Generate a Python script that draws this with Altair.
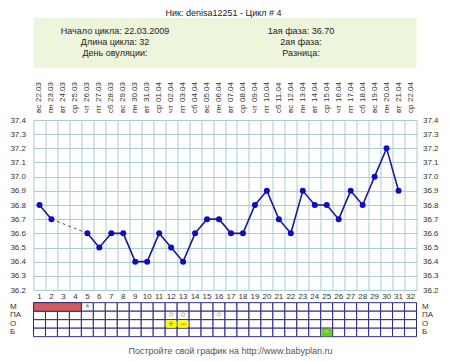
import altair as alt
import pandas as pd

# ---------------- data ----------------
days = list(range(1, 33))
dates = ["22.03", "23.03", "24.03", "25.03", "26.03", "27.03", "28.03", "29.03", "30.03", "31.03",
         "01.04", "02.04", "03.04", "04.04", "05.04", "06.04", "07.04", "08.04", "09.04", "10.04",
         "11.04", "12.04", "13.04", "14.04", "15.04", "16.04", "17.04", "18.04", "19.04", "20.04",
         "21.04", "22.04"]
weekdays = ["вс", "пн", "вт", "ср", "чт", "пт", "сб"] * 4 + ["вс", "пн", "вт", "ср"]
temps = [36.8, 36.7, None, None, 36.6, 36.5, 36.6, 36.6, 36.4, 36.4,
         36.6, 36.5, 36.4, 36.6, 36.7, 36.7, 36.6, 36.6, 36.8, 36.9,
         36.7, 36.6, 36.9, 36.8, 36.8, 36.7, 36.9, 36.8, 37.0, 37.2,
         36.9, None]
gap_days = [2, 5]
temp_ticks = [36.2, 36.3, 36.4, 36.5, 36.6, 36.7, 36.8, 36.9, 37.0, 37.1, 37.2, 37.3, 37.4]
day_bounds = [d - 0.5 for d in days] + [32.5]

row_labels = ["М", "ПА", "О", "Б"]
mens_days = [1, 2, 3, 4]
mens_star_days = [5]
pa_days = [12, 13, 16]
o_days = [12, 13]
o_marks = ["+", "−"]
b_days = [25]
b_marks = ["+"]

title_text = "Ник: denisa12251 - Цикл # 4"
info_left = ["Начало цикла: 22.03.2009", "Длина цикла: 32", "День овуляции:"]
info_right = ["1ая фаза: 36.70", "2ая фаза:", "Разница:"]
footer_text = "Постройте свой график на http://www.babyplan.ru"

# ---------------- tables ----------------
FONT = "Liberation Sans"
W, H = 383, 170

df_days = pd.DataFrame({"day": days, "date": dates, "wd": weekdays, "temp": temps})
seg, s = [], 0
prev = None
for t in temps:
    if t is None:
        seg.append(None)
    else:
        if prev is None:
            s += 1
        seg.append(s)
    prev = t
df_days["seg"] = seg
df_line = df_days.dropna(subset=["temp"])
df_gap = df_days[df_days["day"].isin(gap_days)]

xs = alt.Scale(domain=[0.5, 32.5], nice=False, zero=False)
ys = alt.Scale(domain=[36.2, 37.4], nice=False, zero=False)
one = pd.DataFrame({"xb": [1.0], "t": [37.0]})

# grid + left axis
grid = alt.Chart(one).mark_point(opacity=0).encode(
    x=alt.X("xb:Q", scale=xs, axis=alt.Axis(values=day_bounds, grid=True, labels=False,
                                             ticks=False, domain=False, title=None,
                                             gridColor="#a9cbd2", gridWidth=1)),
    y=alt.Y("t:Q", scale=ys, axis=alt.Axis(values=temp_ticks, orient="left", grid=True,
                                            gridColor="#a9cbd2", gridWidth=1, ticks=False,
                                            domain=False, title=None, format=".1f",
                                            labelPadding=8, labelFont=FONT, labelFontSize=8,
                                            labelColor="#333333")),
)
right_axis = alt.Chart(one).mark_point(opacity=0).encode(
    x=alt.X("xb:Q", scale=xs, axis=None),
    y=alt.Y("t:Q", scale=ys, axis=alt.Axis(values=temp_ticks, orient="right", grid=False,
                                            ticks=False, domain=False, title=None, format=".1f",
                                            labelPadding=6, labelFont=FONT, labelFontSize=8,
                                            labelColor="#333333")),
)

box = alt.Chart(one).mark_rect(fill="#eef5dd").encode(
    x=alt.value(0), x2=alt.value(W), y=alt.value(-102), y2=alt.value(-52)
)

title = alt.Chart(one).mark_text(font=FONT, fontSize=9, color="#222222", baseline="top").encode(
    x=alt.value(190), y=alt.value(-111), text=alt.value(title_text)
)
info_layers = []
for i, (a, b) in enumerate(zip(info_left, info_right)):
    yy = -89 + 11 * i
    info_layers.append(alt.Chart(one).mark_text(font=FONT, fontSize=9, color="#222222").encode(
        x=alt.value(81.5), y=alt.value(yy), text=alt.value(a)))
    info_layers.append(alt.Chart(one).mark_text(font=FONT, fontSize=9, color="#222222").encode(
        x=alt.value(267.5), y=alt.value(yy), text=alt.value(b)))

date_lbl = alt.Chart(df_days).mark_text(font=FONT, fontSize=8, color="#333333", angle=270,
                                        align="left", baseline="middle").encode(
    x=alt.X("day:Q", scale=xs, axis=None), y=alt.value(-18), text="date:N")
wd_lbl = alt.Chart(df_days).mark_text(font=FONT, fontSize=8, color="#333333", angle=270,
                                      align="left", baseline="middle").encode(
    x=alt.X("day:Q", scale=xs, axis=None), y=alt.value(-7), text="wd:N")
num_lbl = alt.Chart(df_days).mark_text(font=FONT, fontSize=8, color="#333333",
                                       baseline="middle").encode(
    x=alt.X("day:Q", scale=xs, axis=None), y=alt.value(177), text="day:N")

gap_line = alt.Chart(df_gap).mark_line(color="#555555", strokeDash=[3, 3], strokeWidth=1).encode(
    x=alt.X("day:Q", scale=xs, axis=None), y=alt.Y("temp:Q", scale=ys, axis=None))
line = alt.Chart(df_line).mark_line(color="#1c1c8e", strokeWidth=1.6).encode(
    x=alt.X("day:Q", scale=xs, axis=None), y=alt.Y("temp:Q", scale=ys, axis=None),
    detail="seg:N")
pts = alt.Chart(df_line).mark_circle(color="#0c0cc6", opacity=1, size=36).encode(
    x=alt.X("day:Q", scale=xs, axis=None), y=alt.Y("temp:Q", scale=ys, axis=None))

# bottom table
ROW_TOP = 182.7
ROW_H = 8.5
NAVY = "#2b2b7c"
table_layers = []
for r in range(4):
    y0 = ROW_TOP + r * ROW_H
    table_layers.append(alt.Chart(df_days).mark_rect(fill="white", stroke=NAVY, strokeWidth=1)
                        .transform_calculate(x0="datum.day - 0.5", x1="datum.day + 0.5")
                        .encode(x=alt.X("x0:Q", scale=xs, axis=None), x2="x1:Q",
                                y=alt.value(y0), y2=alt.value(y0 + ROW_H)))

rowc = [ROW_TOP + ROW_H * (r + 0.5) for r in range(4)]
df_mens = pd.DataFrame({"a": [min(mens_days) - 0.5], "b": [max(mens_days) + 0.5]})
mens = alt.Chart(df_mens).mark_rect(fill="#d55b5b", stroke=NAVY, strokeWidth=1).encode(
    x=alt.X("a:Q", scale=xs, axis=None), x2="b:Q",
    y=alt.value(ROW_TOP), y2=alt.value(ROW_TOP + ROW_H))
star = alt.Chart(pd.DataFrame({"day": mens_star_days})).mark_text(
    font=FONT, fontSize=11, color="#c06a6a", baseline="middle", dy=2).encode(
    x=alt.X("day:Q", scale=xs, axis=None), y=alt.value(rowc[0]), text=alt.value("*"))
pa = alt.Chart(pd.DataFrame({"day": pa_days})).mark_point(
    shape="circle", filled=False, color="#c08a5a", size=12, strokeWidth=1).encode(
    x=alt.X("day:Q", scale=xs, axis=None), y=alt.value(rowc[1] - 1))
df_o = pd.DataFrame({"day": o_days, "m": o_marks})
o_box = alt.Chart(df_o).mark_rect(fill="#ffff00", cornerRadius=2).transform_calculate(
    x0="datum.day - 0.45", x1="datum.day + 0.45").encode(
    x=alt.X("x0:Q", scale=xs, axis=None), x2="x1:Q",
    y=alt.value(rowc[2] - 3.8), y2=alt.value(rowc[2] + 3.8))
o_txt = alt.Chart(df_o).mark_text(font=FONT, fontSize=9, fontWeight="bold", color="#c88a00",
                                  baseline="middle").encode(
    x=alt.X("day:Q", scale=xs, axis=None), y=alt.value(rowc[2]), text="m:N")
df_b = pd.DataFrame({"day": b_days, "m": b_marks})
b_box = alt.Chart(df_b).mark_rect(fill="#6fcf1f").transform_calculate(
    x0="datum.day - 0.45", x1="datum.day + 0.45").encode(
    x=alt.X("x0:Q", scale=xs, axis=None), x2="x1:Q",
    y=alt.value(rowc[3] - 3.8), y2=alt.value(rowc[3] + 3.8))
b_txt = alt.Chart(df_b).mark_text(font=FONT, fontSize=8, color="#b8f080",
                                  baseline="middle").encode(
    x=alt.X("day:Q", scale=xs, axis=None), y=alt.value(rowc[3]), text="m:N")

row_lbl_layers = []
for r, lab in enumerate(row_labels):
    for xx in (-23.5, 388.5):
        row_lbl_layers.append(alt.Chart(one).mark_text(
            font=FONT, fontSize=8, color="#333333", align="left", baseline="middle").encode(
            x=alt.value(xx), y=alt.value(rowc[r]), text=alt.value(lab)))

footer = alt.Chart(one).mark_text(font=FONT, fontSize=9, color="#555555",
                                  baseline="middle").encode(
    x=alt.value(197), y=alt.value(231), text=alt.value(footer_text))

chart = alt.layer(
    box, title, *info_layers, grid, right_axis, date_lbl, wd_lbl, num_lbl,
    *table_layers, mens, star, pa, o_box, o_txt, b_box, b_txt, *row_lbl_layers,
    gap_line, line, pts, footer
).resolve_axis(x="independent", y="independent").properties(
    width=W, height=H,
    autosize=alt.AutoSizeParams(type="none"),
    padding={"left": 25.5, "top": 112, "right": 25.5, "bottom": 67},
    background="white",
).configure_view(strokeWidth=0)

chart.save("out.html", embed_options={"renderer": "svg", "actions": False})
